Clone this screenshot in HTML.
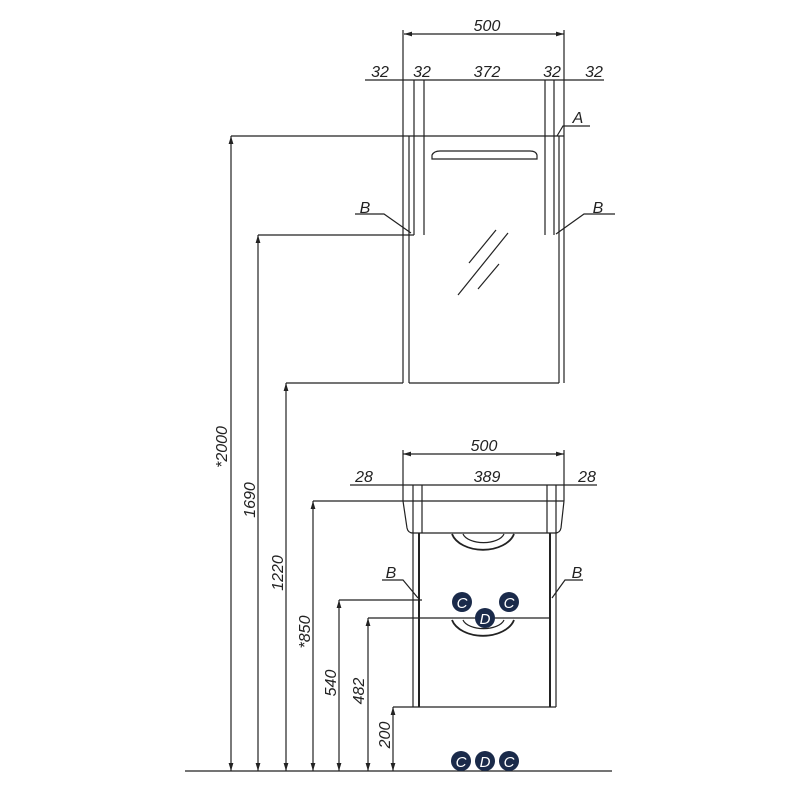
<!DOCTYPE html>
<html><head><meta charset="utf-8"><style>
html,body{margin:0;padding:0;background:#fff}
svg{display:block}
text{font-family:"Liberation Sans Narrow","Liberation Sans",sans-serif;font-style:italic;font-size:16px;fill:#222}
</style></head><body>
<svg width="788" height="788" viewBox="0 0 788 788" xmlns="http://www.w3.org/2000/svg">
<defs>
<marker id="a" viewBox="0 0 10 6" refX="10" refY="3" markerWidth="8" markerHeight="4" orient="auto-start-reverse"><path d="M0,0L10,3L0,6z" fill="#222"/></marker>
</defs>
<g stroke="#222" stroke-width="1.2" fill="none">
<line x1="185" y1="771" x2="612" y2="771"/>
<line x1="231" y1="136" x2="231" y2="771" marker-start="url(#a)" marker-end="url(#a)"/>
<line x1="258" y1="235" x2="258" y2="771" marker-start="url(#a)" marker-end="url(#a)"/>
<line x1="286" y1="383" x2="286" y2="771" marker-start="url(#a)" marker-end="url(#a)"/>
<line x1="313" y1="501" x2="313" y2="771" marker-start="url(#a)" marker-end="url(#a)"/>
<line x1="339" y1="600" x2="339" y2="771" marker-start="url(#a)" marker-end="url(#a)"/>
<line x1="368" y1="618" x2="368" y2="771" marker-start="url(#a)" marker-end="url(#a)"/>
<line x1="393" y1="707" x2="393" y2="771" marker-start="url(#a)" marker-end="url(#a)"/>
<line x1="231" y1="136" x2="564" y2="136"/>
<line x1="258" y1="235" x2="414" y2="235"/>
<line x1="286" y1="383" x2="403" y2="383"/>
<line x1="313" y1="501" x2="564" y2="501"/>
<line x1="339" y1="600" x2="422" y2="600"/>
<line x1="368" y1="618" x2="550" y2="618"/>
<line x1="393" y1="707" x2="556" y2="707"/>
<line x1="404" y1="34" x2="564" y2="34" marker-start="url(#a)" marker-end="url(#a)"/>
<line x1="365" y1="80" x2="604" y2="80"/>
<line x1="403" y1="30" x2="403" y2="383"/>
<line x1="564" y1="30" x2="564" y2="383"/>
<line x1="409" y1="136" x2="409" y2="383"/>
<line x1="559" y1="136" x2="559" y2="383"/>
<line x1="409" y1="383" x2="559" y2="383"/>
<line x1="414" y1="80" x2="414" y2="235"/>
<line x1="424" y1="80" x2="424" y2="235"/>
<line x1="545" y1="80" x2="545" y2="235"/>
<line x1="554" y1="80" x2="554" y2="235"/>
<path d="M432,159 L432,155 Q434,151 440,151 L530,151 Q536,151 537,155 L537,159 Z"/>
<line x1="469" y1="263" x2="496" y2="230"/>
<line x1="458" y1="295" x2="508" y2="233"/>
<line x1="478" y1="289" x2="499" y2="264"/>
<polyline points="355,214 384,214 411,233"/>
<polyline points="556,234 584,214 615,214"/>
<polyline points="557,136 563,126 590,126"/>
<line x1="403" y1="454" x2="564" y2="454" marker-start="url(#a)" marker-end="url(#a)"/>
<line x1="350" y1="485" x2="597" y2="485"/>
<line x1="403" y1="450" x2="403" y2="501"/>
<line x1="564" y1="450" x2="564" y2="501"/>
<path d="M403,501 L407,528 Q408,533 413,533 L555,533 Q560,533 561,528 L564,501"/>
<line x1="413" y1="485" x2="413" y2="707"/>
<line x1="422" y1="485" x2="422" y2="533"/>
<line x1="547" y1="485" x2="547" y2="533"/>
<line x1="556" y1="485" x2="556" y2="707"/>
<line x1="419" y1="533" x2="419" y2="707" stroke-width="2"/>
<line x1="550" y1="533" x2="550" y2="707" stroke-width="2"/>
<path d="M452,534 A32,21 0 0 0 514,534" stroke-width="1.8"/>
<path d="M463,534 A21,11 0 0 0 504,534"/>
<path d="M452,620 A32,21 0 0 0 514,620" stroke-width="1.8"/>
<path d="M463,620 A21,11 0 0 0 504,620"/>
<polyline points="382,580 403,580 418,598"/>
<polyline points="552,598 565,580 583,580"/>
</g>
<g fill="#1a2a4a">
<circle cx="462" cy="602" r="10"/><circle cx="509" cy="602" r="10"/><circle cx="485" cy="618" r="10"/>
<circle cx="461" cy="761" r="10"/><circle cx="485" cy="761" r="10"/><circle cx="509" cy="761" r="10"/>
</g>
<g text-anchor="middle">
<text x="462" y="608" style="fill:#fff;font-size:15px">C</text><text x="509" y="608" style="fill:#fff;font-size:15px">C</text><text x="485" y="624" style="fill:#fff;font-size:15px">D</text>
<text x="461" y="767" style="fill:#fff;font-size:15px">C</text><text x="485" y="767" style="fill:#fff;font-size:15px">D</text><text x="509" y="767" style="fill:#fff;font-size:15px">C</text>
</g>
<g text-anchor="middle">
<text x="487" y="31">500</text>
<text x="380" y="77">32</text><text x="422" y="77">32</text><text x="487" y="77">372</text><text x="552" y="77">32</text><text x="594" y="77">32</text>
<text x="578" y="123">A</text><text x="365" y="213">B</text><text x="598" y="213">B</text>
<text x="484" y="451">500</text>
<text x="364" y="482">28</text><text x="487" y="482">389</text><text x="587" y="482">28</text>
<text x="391" y="578">B</text><text x="577" y="578">B</text>
<text transform="translate(227,447) rotate(-90)">*2000</text>
<text transform="translate(255,500) rotate(-90)">1690</text>
<text transform="translate(283,573) rotate(-90)">1220</text>
<text transform="translate(310,632) rotate(-90)">*850</text>
<text transform="translate(336,683) rotate(-90)">540</text>
<text transform="translate(364,691) rotate(-90)">482</text>
<text transform="translate(390,735) rotate(-90)">200</text>
</g>
</svg>
</body></html>
